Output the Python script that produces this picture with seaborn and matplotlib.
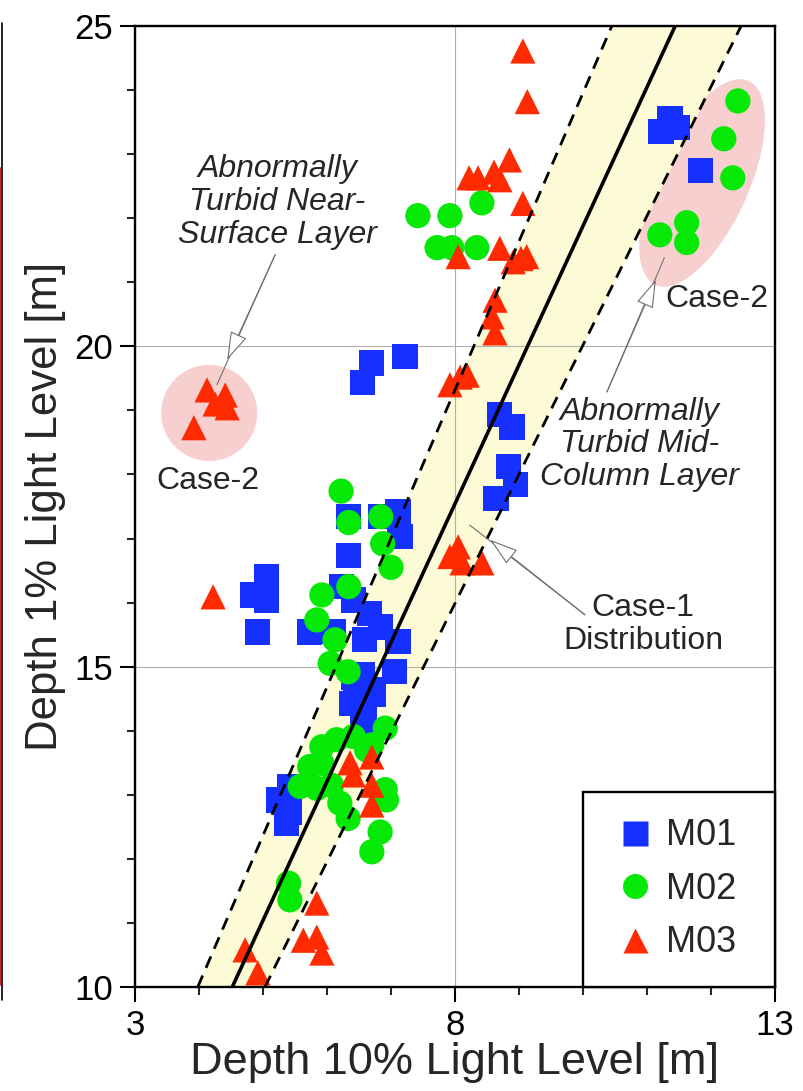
import matplotlib
matplotlib.use("Agg")
import numpy as np
import pandas as pd
import matplotlib.pyplot as plt
import seaborn as sns
from matplotlib.patches import Ellipse, Circle
from matplotlib.lines import Line2D

# ---------------- data ----------------
m01_x = [11.22, 11.36, 11.48, 11.84,
         7.22, 6.70, 6.55,
         8.70, 8.89, 8.83, 8.94, 8.64,
         6.33, 6.83, 7.11, 7.14, 6.34,
         6.23, 6.41, 6.67, 5.73, 6.10, 6.59, 6.83, 7.11, 6.41, 7.06, 6.44, 6.70, 6.59,
         6.55, 6.73, 6.39, 6.55,
         5.06, 4.84, 5.06, 4.92,
         5.42, 5.24, 5.37, 5.42]
m01_y = [23.35, 23.55, 23.41, 22.74,
         19.84, 19.74, 19.43,
         18.93, 18.74, 18.12, 17.84, 17.63,
         17.34, 17.34, 17.42, 17.03, 16.74,
         16.25, 16.04, 15.83, 15.54, 15.55, 15.42, 15.62, 15.39, 14.84, 14.92, 14.53, 14.64, 14.25,
         14.87, 14.56, 14.43, 14.14,
         16.40, 16.12, 16.04, 15.54,
         13.12, 12.92, 12.56, 12.73]

m02_x = [12.42, 12.20, 12.34, 11.20, 11.62, 11.62,
         7.42, 7.92, 8.42, 7.72, 7.95, 8.34,
         6.22, 6.34, 6.84, 6.87, 7.00, 6.34, 5.92, 5.84, 6.125, 6.05, 6.33,
         6.91, 5.92, 6.15, 6.41, 5.73, 5.58, 5.84, 6.07, 6.20, 6.33, 5.92, 6.62, 6.70,
         6.91, 6.93, 6.83, 6.70, 5.40, 5.42]
m02_y = [23.83, 23.24, 22.63, 21.74, 21.93, 21.62,
         22.04, 22.04, 22.24, 21.54, 21.54, 21.54,
         17.74, 17.25, 17.34, 16.92, 16.55, 16.25, 16.12, 15.73, 15.42, 15.05, 14.92,
         14.04, 13.75, 13.86, 13.91, 13.44, 13.13, 13.10, 13.15, 12.87, 12.63, 13.49, 13.70, 13.78,
         13.08, 12.92, 12.42, 12.11, 11.62, 11.36]

m03_x = [9.06, 9.13, 8.85, 8.22, 8.36, 8.61, 8.70, 9.06,
         8.05, 8.70, 8.91, 9.03, 9.12, 8.625, 8.58, 8.625,
         7.92, 8.08, 8.19, 8.05, 7.92, 8.11, 8.42,
         4.125, 4.41, 4.25, 4.44, 3.92, 4.22,
         5.84, 5.63, 5.84, 5.92, 4.72, 4.92,
         6.36, 6.41, 6.70, 6.70, 6.70]
m03_y = [24.61, 23.82, 22.91, 22.63, 22.63, 22.72, 22.60, 22.23,
         21.40, 21.53, 21.32, 21.37, 21.40, 20.72, 20.46, 20.21,
         19.40, 19.52, 19.55, 16.87, 16.72, 16.62, 16.62,
         19.32, 19.24, 19.10, 19.04, 18.73, 16.09,
         11.31, 10.73, 10.78, 10.53, 10.58, 10.22,
         13.50, 13.31, 13.59, 13.15, 12.84]

series_names = ["M01", "M02", "M03"]

# Case-1 distribution band (x at y = 10 and y = 25)
band_y = [10, 25]
center_x = [4.52, 11.44]
lower_x = [3.98, 10.45]
upper_x = [5.03, 12.47]

x_ticks = [3, 8, 13]
y_ticks = [10, 15, 20, 25]

# ---------------- style ----------------
sns.set_style("ticks")
plt.rcParams["font.family"] = ["Liberation Sans", "DejaVu Sans"]

colors = {"M01": "#1530FF", "M02": "#06E806", "M03": "#FF2A00"}
markers = {"M01": "s", "M02": "o", "M03": "^"}

df = pd.DataFrame({
    "x": m01_x + m02_x + m03_x,
    "y": m01_y + m02_y + m03_y,
    "series": ["M01"] * len(m01_x) + ["M02"] * len(m02_x) + ["M03"] * len(m03_x),
})

fig = plt.figure(figsize=(8.04, 10.91), dpi=100)
ax = fig.add_axes([135 / 804, 1 - 987 / 1091, 640 / 804, 961 / 1091])

band_col = "#FDFAD6"
pink = "#F8CFCF"

# highlight regions
ax.add_patch(Ellipse((11.86, 22.55), width=1.45, height=3.5, angle=-24.6,
                     facecolor=pink, edgecolor="none", zorder=0.3))
ax.add_patch(Circle((4.16, 18.96), radius=0.75, facecolor=pink,
                    edgecolor="none", zorder=0.3))

ax.fill_betweenx(band_y, lower_x, upper_x, color=band_col, lw=0, zorder=0.4)

sns.scatterplot(data=df, x="x", y="y", hue="series", style="series",
                palette=colors, markers=markers, s=330, linewidth=0,
                legend=False, ax=ax, zorder=2)

ax.plot(center_x, band_y, color="black", lw=2.6, zorder=3)
ax.plot(lower_x, band_y, color="black", lw=2.0, ls=(0, (4.5, 3)), zorder=3)
ax.plot(upper_x, band_y, color="black", lw=2.0, ls=(0, (4.5, 3)), zorder=3)

ax.set_xlim(3, 13)
ax.set_ylim(10, 25)
ax.set_xticks(x_ticks)
ax.set_yticks(y_ticks)
ax.set_xticks(np.arange(3, 14, 1), minor=True)
ax.set_yticks(np.arange(10, 26, 1), minor=True)
ax.set_axisbelow(True)
ax.grid(True, which="major", color="#B0B0B0", lw=0.8)
ax.tick_params(which="major", direction="out", length=11, width=1.5,
               labelsize=25, pad=5, colors="black")
ax.tick_params(which="minor", direction="out", length=6, width=1.5)
for sp in ax.spines.values():
    sp.set_visible(True)
    sp.set_linewidth(1.7)
    sp.set_color("black")

ax.set_xlabel("Depth 10% Light Level [m]", fontsize=32.5, labelpad=0)
ax.set_ylabel("Depth 1% Light Level [m]", fontsize=31.5, labelpad=6)

# annotations
txt_kw = dict(fontsize=23, ha="center", va="center", linespacing=1.12, zorder=5)
ax.text(5.22, 22.25, "Abnormally\nTurbid Near-\nSurface Layer", style="italic", **txt_kw)
ax.text(10.88, 18.47, "Abnormally\nTurbid Mid-\nColumn Layer", style="italic", **txt_kw)
ax.text(4.14, 17.90, "Case-2", **txt_kw)
ax.text(12.09, 20.74, "Case-2", **txt_kw)
ax.text(10.94, 15.66, "Case-1\nDistribution", **txt_kw)

arrow_col = "#707070"
arrows = [  # (start, head tip, end)
    ((5.19, 21.43), (4.44, 19.79), (4.28, 19.40)),
    ((10.375, 19.29), (11.14, 21.04), (11.27, 21.38)),
    ((10.03, 15.81), (8.55, 16.98), (8.23, 17.21)),
]
for start, head, end in arrows:
    ax.annotate("", xy=end, xytext=start,
                arrowprops=dict(arrowstyle="-", color=arrow_col, lw=0.8,
                                shrinkA=0, shrinkB=0), zorder=4)
    ax.annotate("", xy=head, xytext=start,
                arrowprops=dict(arrowstyle="-|>,head_length=0.9,head_width=0.28",
                                fc="white", ec=arrow_col, lw=0.8,
                                mutation_scale=20, shrinkA=0, shrinkB=0), zorder=4)

handles = [Line2D([], [], ls="none", marker=markers[n], markersize=18,
                  markerfacecolor=colors[n], markeredgecolor="none", label=n)
           for n in series_names]
leg = ax.legend(handles=handles, loc="lower left",
                bbox_to_anchor=((583 - 135) / 640, 0, 192 / 640, 0.2),
                mode="expand", borderaxespad=0,
                fontsize=26, frameon=True, fancybox=False, framealpha=1,
                edgecolor="black", borderpad=0.74, handlelength=1.4,
                handletextpad=0.15, labelspacing=0.51)
leg.get_frame().set_linewidth(1.7)
leg.set_zorder(6)

# cropped neighbour panel edge at far left
fig.add_artist(Line2D([2.5 / 804, 2.5 / 804], [1 - 23 / 1091, 1 - 1000 / 1091],
                      transform=fig.transFigure, color="black", lw=1.2))
fig.add_artist(Line2D([1 / 804, 1 / 804], [1 - 168 / 1091, 1 - 985 / 1091],
                      transform=fig.transFigure, color="#B00000", lw=1.2))

fig.savefig("out.png", dpi=100)
